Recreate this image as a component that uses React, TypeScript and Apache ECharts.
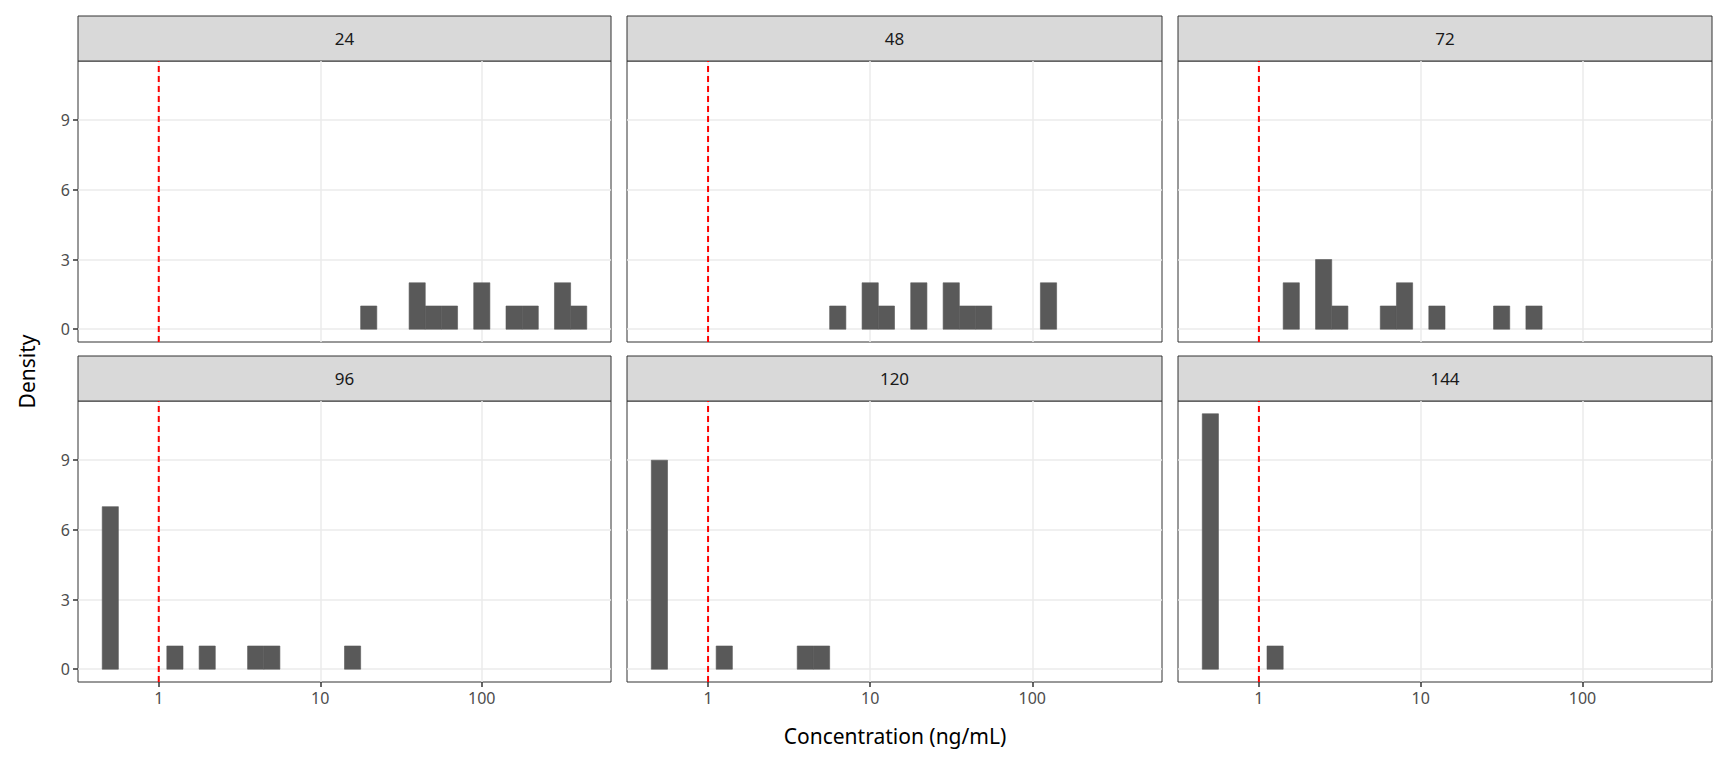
import { useEffect, useRef } from 'react'
import * as echarts from 'echarts'

// facet labels (hours)
const panels = ['24', '48', '72', '96', '120', '144']
// histogram bin centres in log10(ng/mL), bin width 0.1
const bins24 = [1.3, 1.6, 1.7, 1.8, 2.0, 2.2, 2.3, 2.5, 2.6]
const counts24 = [1, 2, 1, 1, 2, 1, 1, 2, 1]
const bins48 = [0.8, 1.0, 1.1, 1.3, 1.5, 1.6, 1.7, 2.1]
const counts48 = [1, 2, 1, 2, 2, 1, 1, 2]
const bins72 = [0.2, 0.4, 0.5, 0.8, 0.9, 1.1, 1.5, 1.7]
const counts72 = [2, 3, 1, 1, 2, 1, 1, 1]
const bins96 = [-0.3, 0.1, 0.3, 0.6, 0.7, 1.2]
const counts96 = [7, 1, 1, 1, 1, 1]
const bins120 = [-0.3, 0.1, 0.6, 0.7]
const counts120 = [9, 1, 1, 1]
const bins144 = [-0.3, 0.1]
const counts144 = [11, 1]
const xTicks = [0, 1, 2]
const xTickLabels = ['1', '10', '100']
const yTicks = [0, 3, 6, 9]
const lloq = 0

const allBins = [bins24, bins48, bins72, bins96, bins120, bins144]
const allCounts = [counts24, counts48, counts72, counts96, counts120, counts144]

const colX = [[78, 611], [627, 1162], [1178, 1712]]
const rowY = [[61, 342], [401, 682]]
const stripH = 45

export default function App() {
  const ref = useRef<HTMLDivElement>(null)

  useEffect(() => {
    if (!ref.current) return
    const chart = echarts.init(ref.current, null, { renderer: 'svg' })
    const grids: any[] = []
    const xAxes: any[] = []
    const yAxes: any[] = []
    const series: any[] = []
    const graphics: any[] = []

    panels.forEach((name, i) => {
      const c = i % 3
      const r = Math.floor(i / 3)
      const [x0, x1] = colX[c]
      const [y0, y1] = rowY[r]
      grids.push({
        left: x0, top: y0, width: x1 - x0, height: y1 - y0,
        show: true, borderColor: '#333', borderWidth: 1, backgroundColor: '#fff',
      })
      xAxes.push({
        type: 'value', gridIndex: i, min: -0.5, max: 2.8,
        axisLine: { show: false, onZero: false },
        axisTick: { show: r === 1, customValues: xTicks, length: 5, lineStyle: { color: '#333', width: 1.5 } },
        axisLabel: {
          show: r === 1, customValues: xTicks, color: '#4d4d4d', fontSize: 16, fontFamily: 'Noto Sans', margin: 8,
          formatter: (v: number) => xTickLabels[xTicks.indexOf(Math.round(v))] ?? '',
        },
        splitLine: { show: true, lineStyle: { color: '#ebebeb', width: 1.5 } },
      })
      yAxes.push({
        type: 'value', gridIndex: i, min: -0.55, max: 11.55,
        axisLine: { show: false, onZero: false },
        axisTick: { show: c === 0, customValues: yTicks, length: 5, lineStyle: { color: '#333', width: 1.5 } },
        axisLabel: { show: c === 0, customValues: yTicks, color: '#4d4d4d', fontSize: 16, fontFamily: 'Noto Sans', margin: 8 },
        splitLine: { show: true, lineStyle: { color: '#ebebeb', width: 1.5 } },
      })
      series.push({
        type: 'custom', xAxisIndex: i, yAxisIndex: i,
        data: allBins[i].map((b, k) => [b, allCounts[i][k]]),
        renderItem: (_p: any, api: any) => {
          const cx = api.value(0)
          const h = api.value(1)
          const a = api.coord([cx - 0.05, 0])
          const b = api.coord([cx + 0.05, h])
          return {
            type: 'rect',
            shape: { x: a[0], y: b[1], width: b[0] - a[0], height: a[1] - b[1] },
            style: { fill: '#595959', stroke: '#595959', lineWidth: 0.6 },
          }
        },
      })
      series.push({
        type: 'line', xAxisIndex: i, yAxisIndex: i, symbol: 'none',
        data: [[lloq, -0.55], [lloq, 11.55]],
        lineStyle: { color: '#ff0000', type: [6, 4], width: 2 },
      })
      graphics.push({
        type: 'rect', shape: { x: x0, y: y0 - stripH, width: x1 - x0, height: stripH },
        style: { fill: '#d9d9d9', stroke: '#333', lineWidth: 1 },
      })
      graphics.push({
        type: 'text', x: (x0 + x1) / 2, y: y0 - stripH / 2,
        style: { text: name, fill: '#1a1a1a', fontSize: 17, fontFamily: 'Noto Sans', align: 'center', verticalAlign: 'middle' },
      })
    })

    graphics.push({
      type: 'text', x: (78 + 1712) / 2, y: 736,
      style: { text: 'Concentration (ng/mL)', fill: '#000', fontSize: 21, fontFamily: 'Noto Sans', align: 'center', verticalAlign: 'middle' },
    })
    graphics.push({
      type: 'text', x: 27, y: (61 + 682) / 2, rotation: Math.PI / 2,
      style: { text: 'Density', fill: '#000', fontSize: 21, fontFamily: 'Noto Sans', align: 'center', verticalAlign: 'middle' },
    })

    chart.setOption({
      animation: false,
      backgroundColor: '#fff',
      grid: grids,
      xAxis: xAxes,
      yAxis: yAxes,
      series,
      graphic: graphics,
    })
    return () => chart.dispose()
  }, [])

  return <div ref={ref} style={{ position: 'absolute', left: 0, top: 0, width: 1728, height: 768 }} />
}
